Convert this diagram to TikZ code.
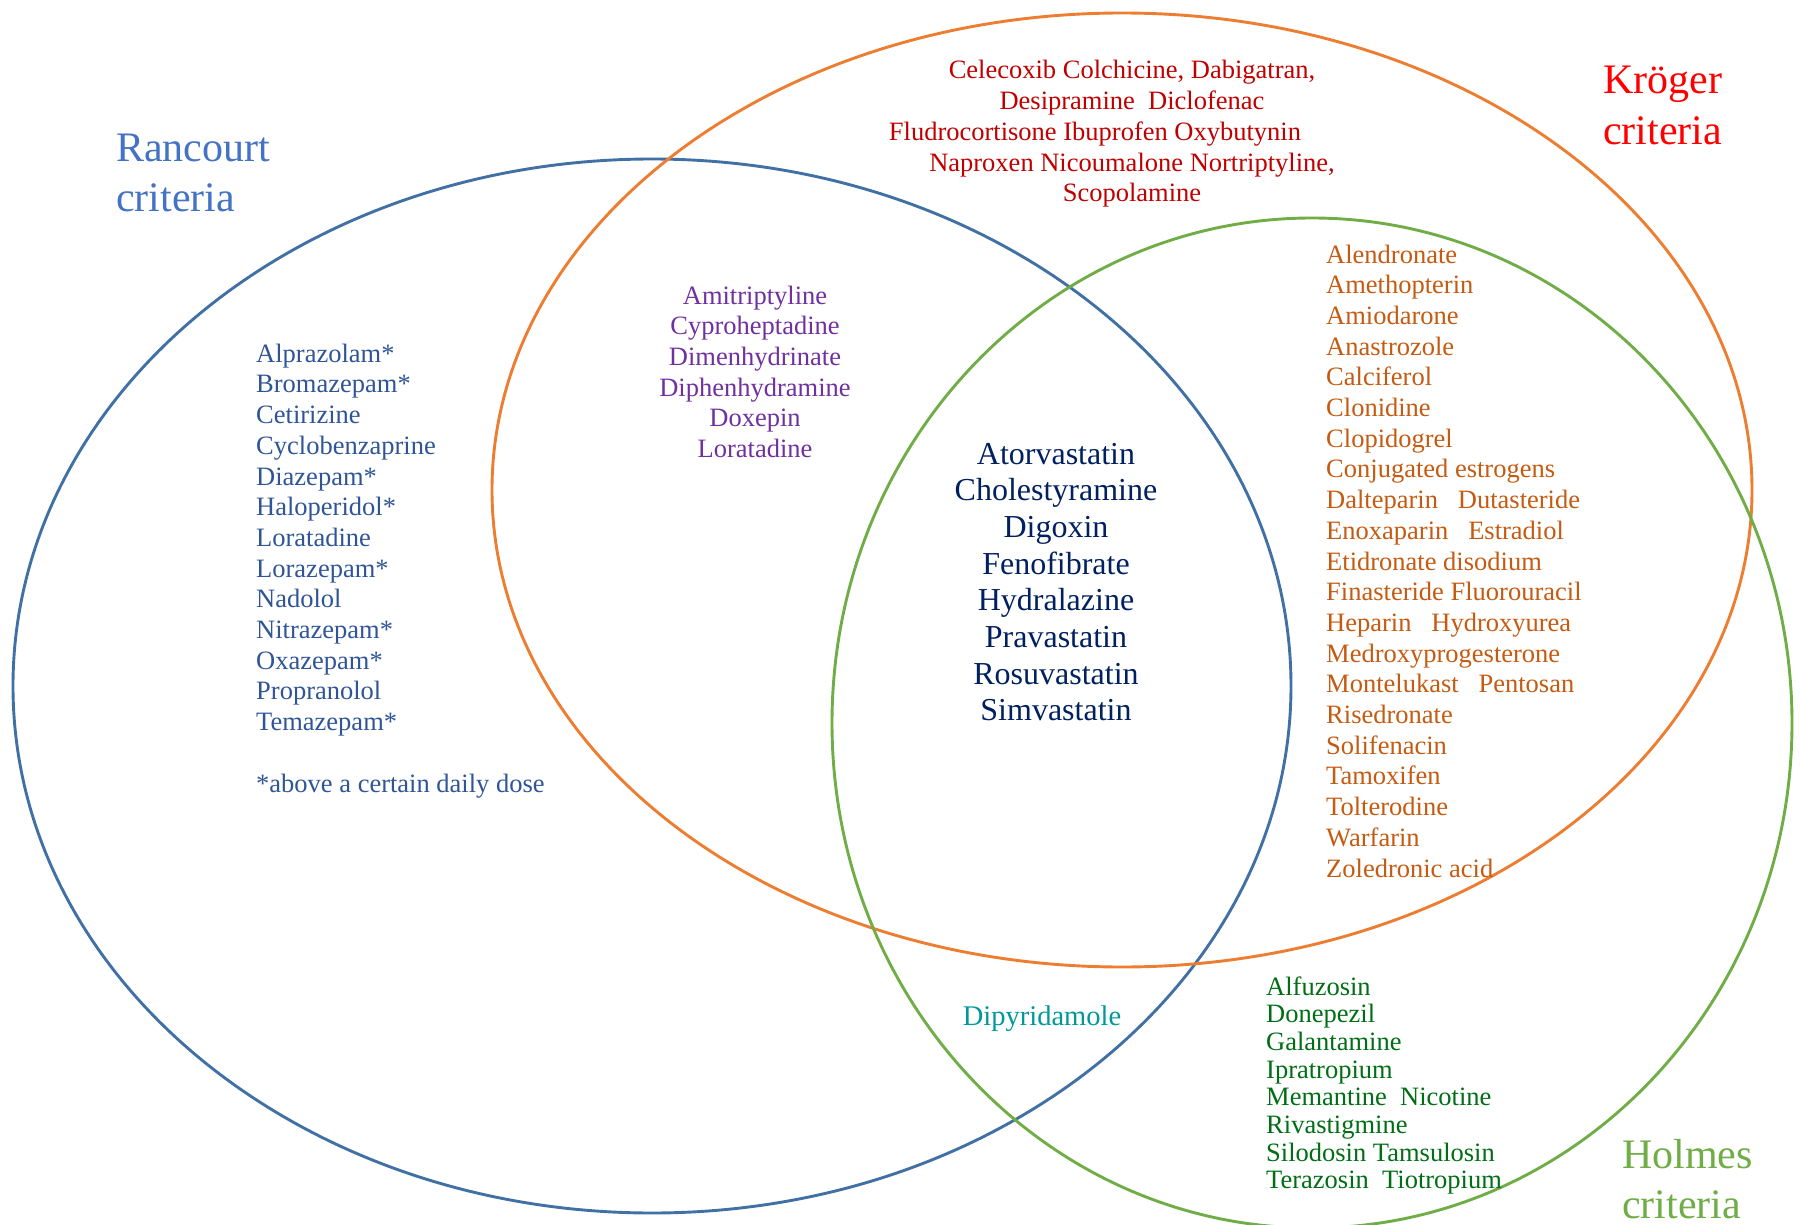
\documentclass[tikz,border=0pt]{standalone}
\usepackage{fontspec}
\setmainfont{Liberation Serif}
\definecolor{rancourtline}{RGB}{65,113,164}
\definecolor{rancourttitle}{RGB}{68,114,196}
\definecolor{krogerline}{RGB}{237,125,49}
\definecolor{holmesline}{RGB}{112,173,71}
\definecolor{rancourtdrug}{RGB}{47,85,151}
\definecolor{rkdrug}{RGB}{112,48,160}
\definecolor{krogerdrug}{RGB}{192,0,0}
\definecolor{khdrug}{RGB}{197,90,17}
\definecolor{holmesdrug}{RGB}{0,110,20}
\definecolor{rhdrug}{RGB}{0,153,153}
\definecolor{alldrug}{RGB}{0,32,96}
\newcommand{\vennlist}{\fontsize{26.5}{30.7}\selectfont}
\newcommand{\venntight}{\fontsize{26.5}{27.7}\selectfont}
\newcommand{\vennbig}{\fontsize{32}{36.7}\selectfont}
\newcommand{\venntitle}{\fontsize{42}{50.5}\selectfont}
% multi-line nodes sit on the baseline of their last line
\tikzset{
   setline/.style={line width=2.9pt},
   druglist/.style={inner sep=0pt, font=\vennlist, align=left, anchor=base west},
   drugcentre/.style={inner sep=0pt, font=\vennlist, align=center, anchor=base},
   settitle/.style={inner sep=0pt, font=\venntitle, align=left, anchor=base west},
}

\begin{document}
\begin{tikzpicture}[x=1pt, y=1pt]
   \useasboundingbox (0,0) rectangle (1800,-1225);
   \draw[setline, rancourtline] (652,-686) ellipse [x radius=639pt, y radius=527pt];
   \draw[setline, krogerline] (1122,-490) ellipse [x radius=630pt, y radius=477pt];
   \draw[setline, holmesline] (1312,-723) ellipse [x radius=480pt, y radius=505pt];
   \node[settitle, rancourttitle] (rancourt) at (116,-212) {Rancourt\\criteria};
   \node[settitle, red] (kroger) at (1603,-144.5) {Kröger\\criteria};
   \node[settitle, holmesline] (holmes) at (1622,-1218.5) {Holmes\\criteria};
   \node[drugcentre, krogerdrug] (kronly) at (1132,-201.8)
      {Celecoxib Colchicine, Dabigatran,\\
       Desipramine\ \ Diclofenac\\
       Fludrocortisone Ibuprofen Oxybutynin\rule{74pt}{0pt}\\
       Naproxen Nicoumalone Nortriptyline,\\
       Scopolamine};
   \node[druglist, rancourtdrug] (raonly) at (256,-792)
      {Alprazolam*\\ Bromazepam*\\ Cetirizine\\ Cyclobenzaprine\\ Diazepam*\\
       Haloperidol*\\ Loratadine\\ Lorazepam*\\ Nadolol\\ Nitrazepam*\\
       Oxazepam*\\ Propranolol\\ Temazepam*\\[30.7pt]
       *above a certain daily dose};
   \node[drugcentre, rkdrug] (rakr) at (755,-457.5)
      {Amitriptyline\\ Cyproheptadine\\ Dimenhydrinate\\ Diphenhydramine\\
       Doxepin\\ Loratadine};
   \node[drugcentre, font=\vennbig, alldrug] (allthree) at (1056,-720.9)
      {Atorvastatin\\ Cholestyramine\\ Digoxin\\ Fenofibrate\\ Hydralazine\\
       Pravastatin\\ Rosuvastatin\\ Simvastatin};
   \node[druglist, khdrug] (krho) at (1326,-877)
      {Alendronate\\ Amethopterin\\ Amiodarone\\ Anastrozole\\ Calciferol\\
       Clonidine\\ Clopidogrel\\ Conjugated estrogens\\
       Dalteparin\ \ \ Dutasteride\\ Enoxaparin\ \ \ Estradiol\\
       Etidronate disodium\\ Finasteride Fluorouracil\\
       Heparin\ \ \ Hydroxyurea\\ Medroxyprogesterone\\
       Montelukast\ \ \ Pentosan\\ Risedronate\\ Solifenacin\\ Tamoxifen\\
       Tolterodine\\ Warfarin\\ Zoledronic acid};
   \node[drugcentre, font=\fontsize{28.5}{30}\selectfont, rhdrug] (raho) at (1042,-1025) {Dipyridamole};
   \node[druglist, font=\venntight, holmesdrug] (hoonly) at (1266,-1188.9)
      {Alfuzosin\\ Donepezil\\ Galantamine\\ Ipratropium\\
       Memantine\ \ Nicotine\\ Rivastigmine\\ Silodosin Tamsulosin\\
       Terazosin\ \ Tiotropium};
\end{tikzpicture}
\end{document}
